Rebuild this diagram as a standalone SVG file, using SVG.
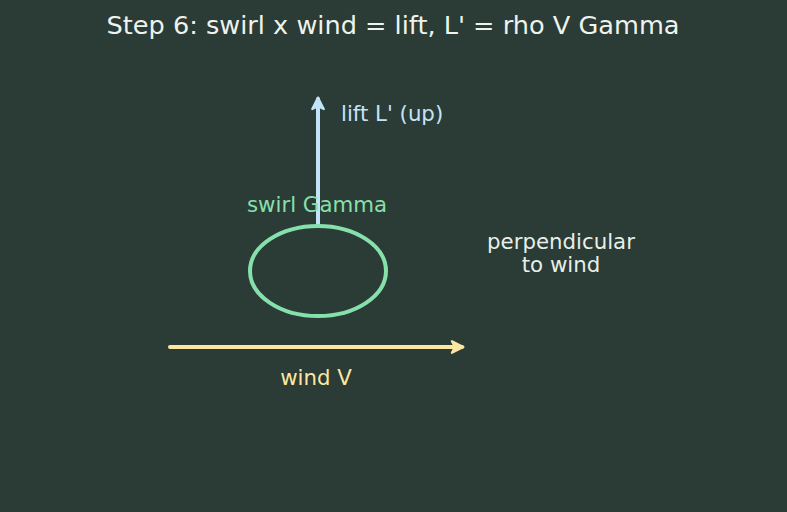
<svg xmlns="http://www.w3.org/2000/svg" width="787" height="512" viewBox="0 0 787 512">
<defs>
<style>
text{font-family:"DejaVu Sans",sans-serif;}
.t{fill:#eef3ee;font-size:25.6px;text-anchor:middle}
.lbl{font-size:21.3px}
</style>
<marker id="ah-blue" viewBox="0 0 10 10" refX="8" refY="5" markerWidth="3.6" markerHeight="3.6" orient="auto"><path d="M1,1 L9,5 L1,9 L3,5 Z" fill="#c3e4f8" stroke="#c3e4f8" stroke-width="1.5" stroke-linejoin="round"/></marker>
<marker id="ah-yel" viewBox="0 0 10 10" refX="8" refY="5" markerWidth="3.6" markerHeight="3.6" orient="auto"><path d="M1,1 L9,5 L1,9 L3,5 Z" fill="#fbe7a1" stroke="#fbe7a1" stroke-width="1.5" stroke-linejoin="round"/></marker>
</defs>
<rect width="787" height="512" fill="#2b3b35"/>
<text class="t" x="393" y="34">Step 6: swirl x wind = lift, L' = rho V Gamma</text>
<g id="connectors">
<line x1="318" y1="226" x2="318" y2="99" stroke="#c3e4f8" stroke-width="4" stroke-linecap="round" marker-end="url(#ah-blue)"/>
<line x1="170" y1="347" x2="462" y2="347" stroke="#fbe7a1" stroke-width="4" stroke-linecap="round" marker-end="url(#ah-yel)"/>
</g>
<g id="swirl">
<ellipse cx="318" cy="271" rx="68" ry="45" fill="none" stroke="#86e0ac" stroke-width="4"/>
<text class="lbl" x="317" y="212" text-anchor="middle" fill="#86e0ac">swirl Gamma</text>
</g>
<g id="lift">
<text class="lbl" x="341" y="121" fill="#c3e4f8">lift L' (up)</text>
</g>
<g id="wind">
<text class="lbl" x="316" y="385" text-anchor="middle" fill="#fbe7a1">wind V</text>
</g>
<g id="perp">
<text class="lbl" x="561" y="249" text-anchor="middle" fill="#e6efe9">perpendicular</text>
<text class="lbl" x="561" y="272" text-anchor="middle" fill="#e6efe9">to wind</text>
</g>
</svg>
